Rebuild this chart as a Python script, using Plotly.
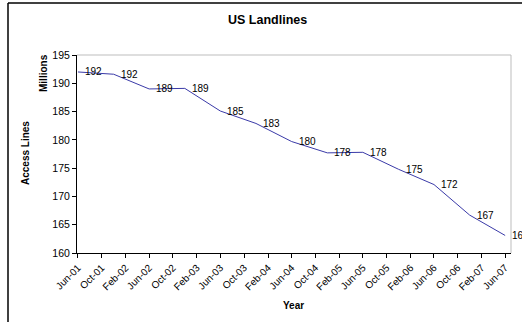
import plotly.graph_objects as go

dates = ["2001-06-01", "2001-12-01", "2002-06-01", "2002-12-01", "2003-06-01",
         "2003-12-01", "2004-06-01", "2004-12-01", "2005-06-01", "2005-12-01",
         "2006-06-01", "2006-12-01", "2007-06-01"]
access_lines = [192.0, 191.6, 189.0, 189.1, 185.1, 182.9, 179.7, 177.7, 177.8,
                174.8, 172.1, 166.7, 163.1]
labels = [f"{v:.0f}" for v in access_lines]

W, H = 522, 322
L, R, T, B = 77, 511, 55, 253
pw, ph = R - L, B - T

def px(x):
    return (x - L) / pw

def py(y):
    return (B - y) / ph

FONT = "Liberation Sans, Arial, sans-serif"

fig = go.Figure()
fig.add_trace(go.Scatter(
    x=dates, y=access_lines, mode="lines",
    line=dict(color="#3a3aa8", width=1), hoverinfo="skip", showlegend=False,
))

for d, v, t in zip(dates, access_lines, labels):
    fig.add_annotation(x=d, y=v, text=t, showarrow=False, xanchor="left",
                       yanchor="middle", xshift=5, font=dict(size=10, color="black", family=FONT))

fig.update_layout(
    width=W, height=H,
    margin=dict(l=L, r=W - R, t=T, b=H - B, pad=0),
    paper_bgcolor="white", plot_bgcolor="white",
    font=dict(family=FONT, size=10, color="black"),
    showlegend=False,
)
fig.update_xaxes(
    type="date", range=["2001-05-27", "2007-07-01"],
    tick0="2001-06-01", dtick="M4", tickformat="%b-%y", tickangle=-45,
    ticks="outside", ticklen=4, tickcolor="black", tickwidth=1,
    showline=True, linecolor="black", linewidth=1, showgrid=False, zeroline=False,
    tickfont=dict(size=10, family=FONT),
)
fig.update_yaxes(
    range=[160, 195], dtick=5, tick0=160,
    ticks="outside", ticklen=4, tickcolor="black", tickwidth=1,
    showline=True, linecolor="black", linewidth=1, showgrid=False, zeroline=False,
    tickfont=dict(size=10.5, family=FONT),
)

# plot area top/right gray border
fig.add_shape(type="line", xref="paper", yref="paper", x0=0, x1=1, y0=1, y1=1,
              line=dict(color="#bdbdbd", width=1))
fig.add_shape(type="line", xref="paper", yref="paper", x0=1, x1=1, y0=0, y1=1,
              line=dict(color="#bdbdbd", width=1))
# outer chart frame
fig.add_shape(type="line", xref="paper", yref="paper", x0=px(8), x1=px(530),
              y0=py(3), y1=py(3), line=dict(color="black", width=1.5))
fig.add_shape(type="line", xref="paper", yref="paper", x0=px(8), x1=px(8),
              y0=py(330), y1=py(3), line=dict(color="black", width=1.5))

# titles
fig.add_annotation(x=px(267), y=py(20), xref="paper", yref="paper", text="<b>US Landlines</b>",
                   showarrow=False, xanchor="center", yanchor="middle",
                   font=dict(size=12.5, family=FONT))
fig.add_annotation(x=px(43), y=py(73), xref="paper", yref="paper", text="<b>Millions</b>",
                   showarrow=False, textangle=-90, xanchor="center", yanchor="middle",
                   font=dict(size=10, family=FONT))
fig.add_annotation(x=px(25), y=py(153), xref="paper", yref="paper", text="<b>Access Lines</b>",
                   showarrow=False, textangle=-90, xanchor="center", yanchor="middle",
                   font=dict(size=10, family=FONT))
fig.add_annotation(x=px(293), y=py(305), xref="paper", yref="paper", text="<b>Year</b>",
                   showarrow=False, xanchor="center", yanchor="middle",
                   font=dict(size=10, family=FONT))

fig.write_html("out.html")
